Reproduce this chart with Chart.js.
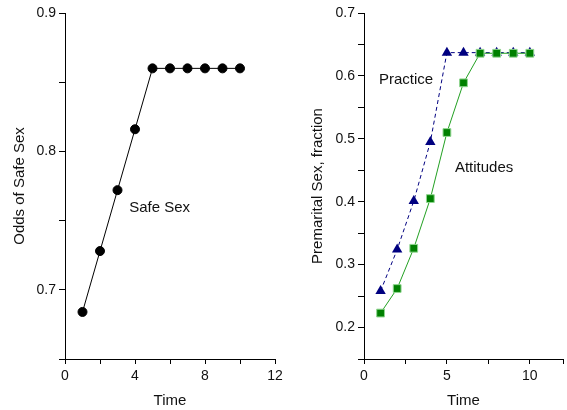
<!DOCTYPE html>
<html>
<head>
<meta charset="utf-8">
<script src="https://cdn.jsdelivr.net/npm/chart.js@4/dist/chart.umd.min.js"></script>
<style>
  html, body { margin: 0; padding: 0; background: #fff; }
  #wrap { position: relative; width: 567px; height: 410px; }
  canvas { position: absolute; top: 0; }
</style>
</head>
<body>
<div id="wrap">
  <canvas id="safeChart" width="290" height="410" style="left:0"></canvas>
  <canvas id="premChart" width="277" height="410" style="left:290px"></canvas>
</div>
<script>
// data
const time = [1, 2, 3, 4, 5, 6, 7, 8, 9, 10];
const safeSex = [0.684, 0.728, 0.772, 0.816, 0.860, 0.860, 0.860, 0.860, 0.860, 0.860];
const practice = [0.258, 0.324, 0.401, 0.495, 0.637, 0.637, 0.637, 0.637, 0.637, 0.637];
const attitudes = [0.223, 0.262, 0.326, 0.405, 0.510, 0.589, 0.636, 0.636, 0.636, 0.636];

// text labels placed inside the plots (data coords)
const safeLabels = [{ text: 'Safe Sex', x: 3.67, y: 0.759 }];
const premLabels = [
    { text: 'Practice', x: 0.9, y: 0.593 },
    { text: 'Attitudes', x: 5.48, y: 0.454 }
];

const FONT = "'Liberation Sans', Arial, sans-serif";
Chart.defaults.font.family = FONT;
Chart.defaults.color = '#000';

function toPoints(xs, ys) {
    return xs.map((x, i) => ({ x: x, y: ys[i] }));
}

// draws the in-plot text at data coordinates
const inlineLabels = {
    id: 'inlineLabels',
    afterDatasetsDraw(chart, args, opts) {
        const ctx = chart.ctx;
        ctx.save();
        ctx.font = '15px ' + FONT;
        ctx.fillStyle = '#111';
        ctx.textBaseline = 'middle';
        ctx.textAlign = 'left';
        (opts.items || []).forEach(l => {
            ctx.fillText(l.text, chart.scales.x.getPixelForValue(l.x), chart.scales.y.getPixelForValue(l.y));
        });
        ctx.restore();
    }
};

function axisX(max, step, every, height) {
    return {
        type: 'linear',
        min: 0,
        max: max,
        afterFit: s => { s.height = height; },
        border: { display: true, color: '#000', width: 1 },
        grid: { display: true, drawOnChartArea: false, tickLength: 5, tickColor: '#000', tickWidth: 1 },
        ticks: {
            stepSize: step,
            padding: 4,
            maxRotation: 0,
            autoSkip: false,
            font: { size: 14 },
            color: '#111',
            callback: v => (Math.abs(v / every - Math.round(v / every)) < 1e-6 ? String(v) : '')
        },
        title: { display: true, text: 'Time', font: { size: 15 }, color: '#111', padding: { top: 3, bottom: 0 } }
    };
}

function axisY(min, max, title, width, titlePad) {
    return {
        type: 'linear',
        min: min,
        max: max,
        afterFit: s => { s.width = width; },
        border: { display: true, color: '#000', width: 1 },
        grid: { display: true, drawOnChartArea: false, tickLength: 6, tickColor: '#000', tickWidth: 1 },
        ticks: {
            stepSize: 0.05,
            padding: 3,
            autoSkip: false,
            font: { size: 14 },
            color: '#111',
            callback: v => (Math.abs(v * 10 - Math.round(v * 10)) < 1e-6 ? v.toFixed(1) : '')
        },
        title: { display: true, text: title, font: { size: 15 }, color: '#111', padding: { top: titlePad, bottom: 0 } }
    };
}

new Chart(document.getElementById('safeChart'), {
    type: 'scatter',
    data: {
        datasets: [{
            label: 'Safe Sex',
            data: toPoints(time, safeSex),
            showLine: true,
            borderColor: '#000',
            borderWidth: 1,
            pointBackgroundColor: '#000',
            pointBorderColor: '#000',
            pointRadius: 4.5,
            pointStyle: 'circle'
        }]
    },
    options: {
        responsive: false,
        animation: false,
        devicePixelRatio: 1,
        layout: { autoPadding: false, padding: { left: 0, top: 13, right: 15, bottom: 0 } },
        scales: {
            x: axisX(12, 2, 4, 51),
            y: axisY(0.65, 0.9, 'Odds of Safe Sex', 65, 11)
        },
        plugins: {
            legend: { display: false },
            tooltip: { enabled: false },
            inlineLabels: { items: safeLabels }
        }
    },
    plugins: [inlineLabels]
});

new Chart(document.getElementById('premChart'), {
    type: 'scatter',
    data: {
        datasets: [{
            label: 'Attitudes',
            data: toPoints(time, attitudes),
            showLine: true,
            order: 0,
            borderColor: '#22a022',
            borderWidth: 1,
            pointStyle: 'rect',
            pointRadius: 5.5,
            pointBackgroundColor: '#008000',
            pointBorderColor: '#8fd68f',
            pointBorderWidth: 1
        }, {
            label: 'Practice',
            data: toPoints(time, practice),
            showLine: true,
            order: 1,
            borderColor: '#000080',
            borderWidth: 1,
            borderDash: [4, 3],
            pointStyle: 'triangle',
            pointRadius: 6,
            pointBackgroundColor: '#000080',
            pointBorderColor: '#000080',
            pointBorderWidth: 0
        }]
    },
    options: {
        responsive: false,
        animation: false,
        devicePixelRatio: 1,
        layout: { autoPadding: false, padding: { left: 0, top: 13, right: 0, bottom: 0 } },
        scales: {
            x: axisX(12, 2.5, 5, 51),
            y: axisY(0.15, 0.7, 'Premarital Sex, fraction', 74, 19)
        },
        plugins: {
            legend: { display: false },
            tooltip: { enabled: false },
            inlineLabels: { items: premLabels }
        }
    },
    plugins: [inlineLabels]
});
</script>
</body>
</html>
